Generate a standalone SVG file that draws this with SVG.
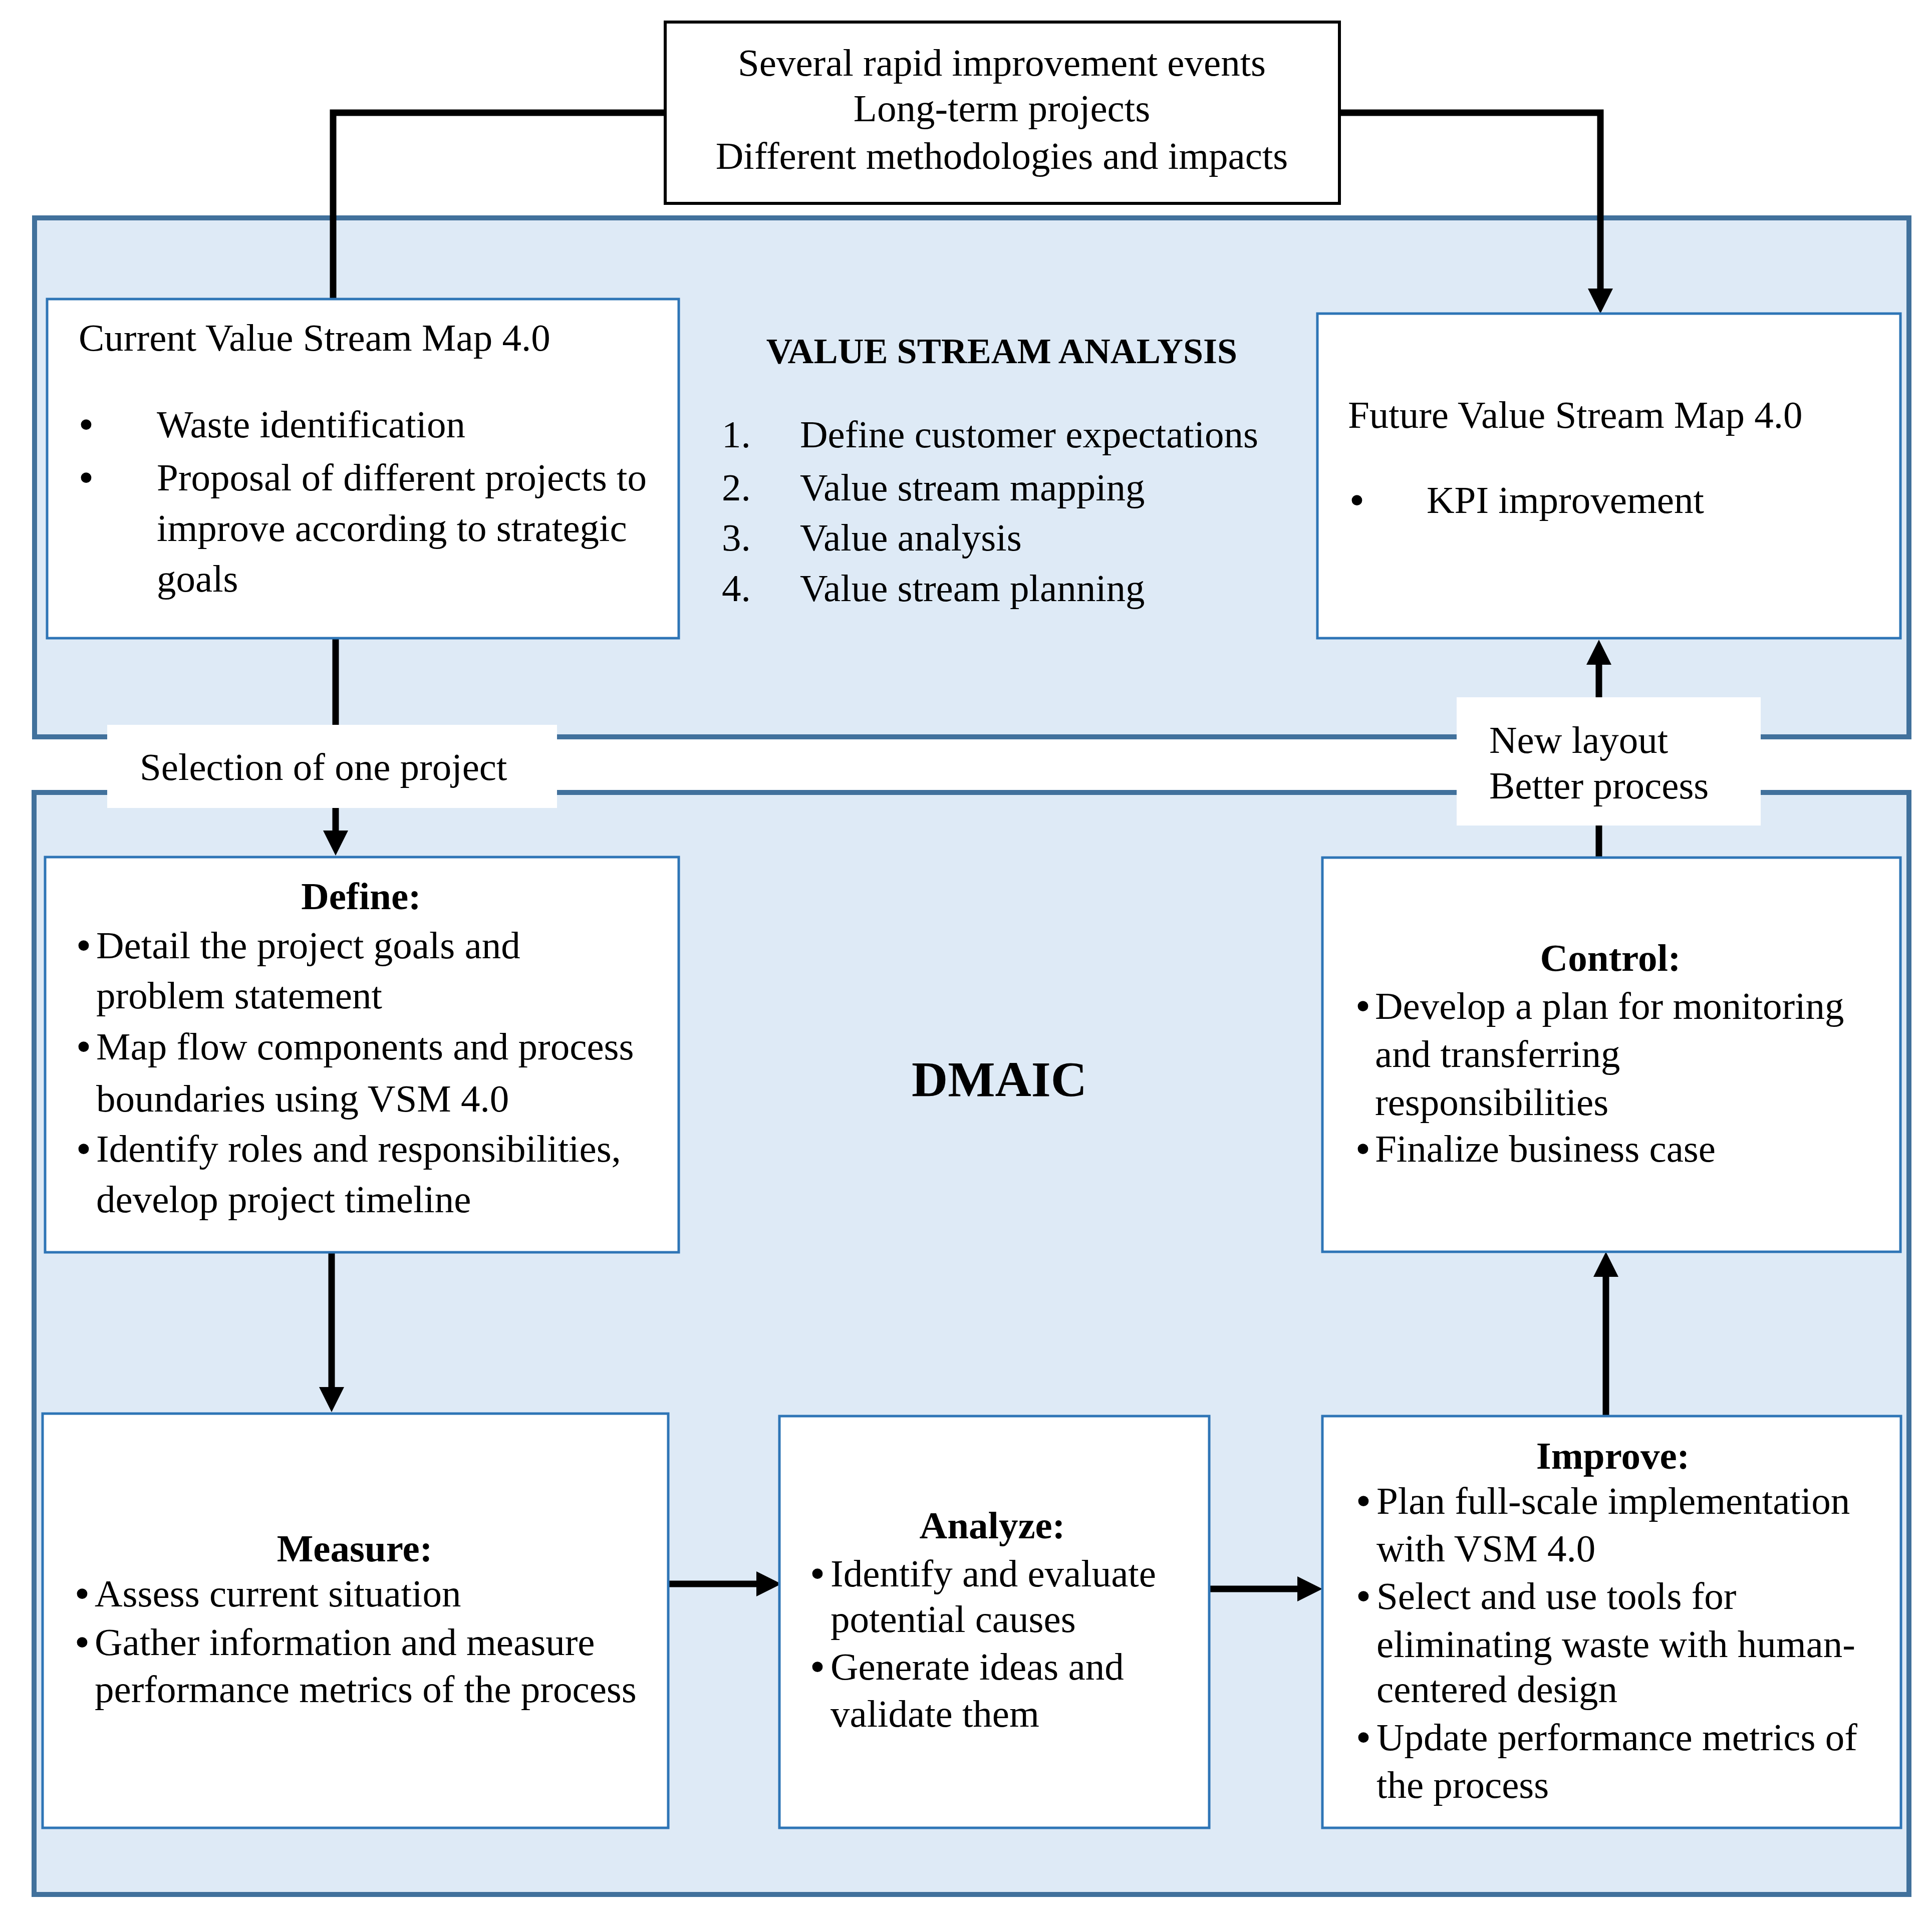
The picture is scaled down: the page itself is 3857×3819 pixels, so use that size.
<svg xmlns="http://www.w3.org/2000/svg" width="3857" height="3819" viewBox="0 0 3857 3819">
<style>
.panel{fill:#DEEAF6;stroke:#41719C;stroke-width:10}
.box{fill:#FFFFFF;stroke:#2E75B6;stroke-width:5}
.topbox{fill:#FFFFFF;stroke:#000000;stroke-width:6}
.lbl{fill:#FFFFFF;stroke:none}
.conn{fill:none;stroke:#000000;stroke-width:13;stroke-linejoin:miter}
text{font-family:"Liberation Serif","Times New Roman",serif;font-size:77px;fill:#000000}
.b{font-weight:bold}
.c{text-anchor:middle}
.bu{text-anchor:middle;font-weight:bold}
</style>
<defs>
<marker id="ah" markerUnits="userSpaceOnUse" markerWidth="52" markerHeight="52" refX="2" refY="25" orient="auto">
<path d="M0,0 L50,25 L0,50 z" fill="#000000"/>
</marker>
</defs>
<g id="panel-vsa"><rect class="panel" x="69" y="435" width="3742" height="1036"/></g>
<g id="panel-dmaic"><rect class="panel" x="68" y="1582" width="3743" height="2200"/></g>

<g id="connectors">
<path class="conn" d="M1328,225 H665 V602"/>
<path class="conn" d="M2674,225 H3195 V578" marker-end="url(#ah)"/>
<path class="conn" d="M670,1274 V1660" marker-end="url(#ah)"/>
<path class="conn" d="M662,2500 V2771" marker-end="url(#ah)"/>
<path class="conn" d="M1335,3162 H1512" marker-end="url(#ah)"/>
<path class="conn" d="M2414,3172 H2592" marker-end="url(#ah)"/>
<path class="conn" d="M3206,2827 V2547" marker-end="url(#ah)"/>
<path class="conn" d="M3192,1712 V1325" marker-end="url(#ah)"/>
</g>

<g id="top-box">
<rect class="topbox" x="1328" y="44" width="1346" height="362"/>
<text class="c" x="2000" y="151">Several rapid improvement events</text>
<text class="c" x="2000" y="242">Long-term projects</text>
<text class="c" x="2000" y="337">Different methodologies and impacts</text>
</g>

<g id="current-vsm">
<rect class="box" x="94" y="597" width="1261" height="677"/>
<text x="157" y="700">Current Value Stream Map 4.0</text>
<text class="bu" x="172" y="873">•</text>
<text x="313" y="873">Waste identification</text>
<text class="bu" x="172" y="979">•</text>
<text x="313" y="979">Proposal of different projects to</text>
<text x="313" y="1080">improve according to strategic</text>
<text x="313" y="1181">goals</text>
</g>

<g id="vsa-title">
<text class="b c" x="2000" y="725" style="font-size:72px">VALUE STREAM ANALYSIS</text>
<text x="1441" y="893">1.</text>
<text x="1597" y="893">Define customer expectations</text>
<text x="1441" y="999">2.</text>
<text x="1597" y="999">Value stream mapping</text>
<text x="1441" y="1099">3.</text>
<text x="1597" y="1099">Value analysis</text>
<text x="1441" y="1200">4.</text>
<text x="1597" y="1200">Value stream planning</text>
</g>

<g id="future-vsm">
<rect class="box" x="2630" y="626" width="1164" height="648"/>
<text x="2691" y="854">Future Value Stream Map 4.0</text>
<text class="bu" x="2709" y="1024">•</text>
<text x="2848" y="1024">KPI improvement</text>
</g>

<g id="define">
<rect class="box" x="90" y="1711" width="1265" height="789"/>
<text class="b c" x="721" y="1815">Define:</text>
<text class="bu" x="167" y="1913">•</text>
<text x="192" y="1913">Detail the project goals and</text>
<text x="192" y="2013">problem statement</text>
<text class="bu" x="167" y="2115">•</text>
<text x="192" y="2115">Map flow components and process</text>
<text x="192" y="2219">boundaries using VSM 4.0</text>
<text class="bu" x="167" y="2319">•</text>
<text x="192" y="2319">Identify roles and responsibilities,</text>
<text x="192" y="2420">develop project timeline</text>
</g>

<g id="dmaic-title">
<text class="b c" x="1995" y="2188" style="font-size:100px">DMAIC</text>
</g>

<g id="control">
<rect class="box" x="2640" y="1712" width="1154" height="787"/>
<text class="b c" x="3215" y="1938">Control:</text>
<text class="bu" x="2721" y="2034">•</text>
<text x="2745" y="2034">Develop a plan for monitoring</text>
<text x="2745" y="2130">and transferring</text>
<text x="2745" y="2226">responsibilities</text>
<text class="bu" x="2721" y="2319">•</text>
<text x="2745" y="2319">Finalize business case</text>
</g>

<g id="measure">
<rect class="box" x="85" y="2822" width="1249" height="827"/>
<text class="b c" x="708" y="3117">Measure:</text>
<text class="bu" x="164" y="3207">•</text>
<text x="189" y="3207">Assess current situation</text>
<text class="bu" x="164" y="3304">•</text>
<text x="189" y="3304">Gather information and measure</text>
<text x="189" y="3398">performance metrics of the process</text>
</g>

<g id="analyze">
<rect class="box" x="1556" y="2827" width="858" height="822"/>
<text class="b c" x="1981" y="3071">Analyze:</text>
<text class="bu" x="1632" y="3167">•</text>
<text x="1658" y="3167">Identify and evaluate</text>
<text x="1658" y="3258">potential causes</text>
<text class="bu" x="1632" y="3353">•</text>
<text x="1658" y="3353">Generate ideas and</text>
<text x="1658" y="3447">validate them</text>
</g>

<g id="improve">
<rect class="box" x="2640" y="2827" width="1155" height="822"/>
<text class="b c" x="3220" y="2932">Improve:</text>
<text class="bu" x="2722" y="3022">•</text>
<text x="2748" y="3022">Plan full-scale implementation</text>
<text x="2748" y="3117">with VSM 4.0</text>
<text class="bu" x="2722" y="3212">•</text>
<text x="2748" y="3212">Select and use tools for</text>
<text x="2748" y="3308">eliminating waste with human-</text>
<text x="2748" y="3398">centered design</text>
<text class="bu" x="2722" y="3494">•</text>
<text x="2748" y="3494">Update performance metrics of</text>
<text x="2748" y="3589">the process</text>
</g>

<g id="label-selection">
<rect class="lbl" x="214" y="1447" width="898" height="166"/>
<text x="279" y="1557">Selection of one project</text>
</g>

<g id="label-new-layout">
<rect class="lbl" x="2908" y="1392" width="607" height="256"/>
<text x="2973" y="1503">New layout</text>
<text x="2973" y="1594">Better process</text>
</g>
</svg>
